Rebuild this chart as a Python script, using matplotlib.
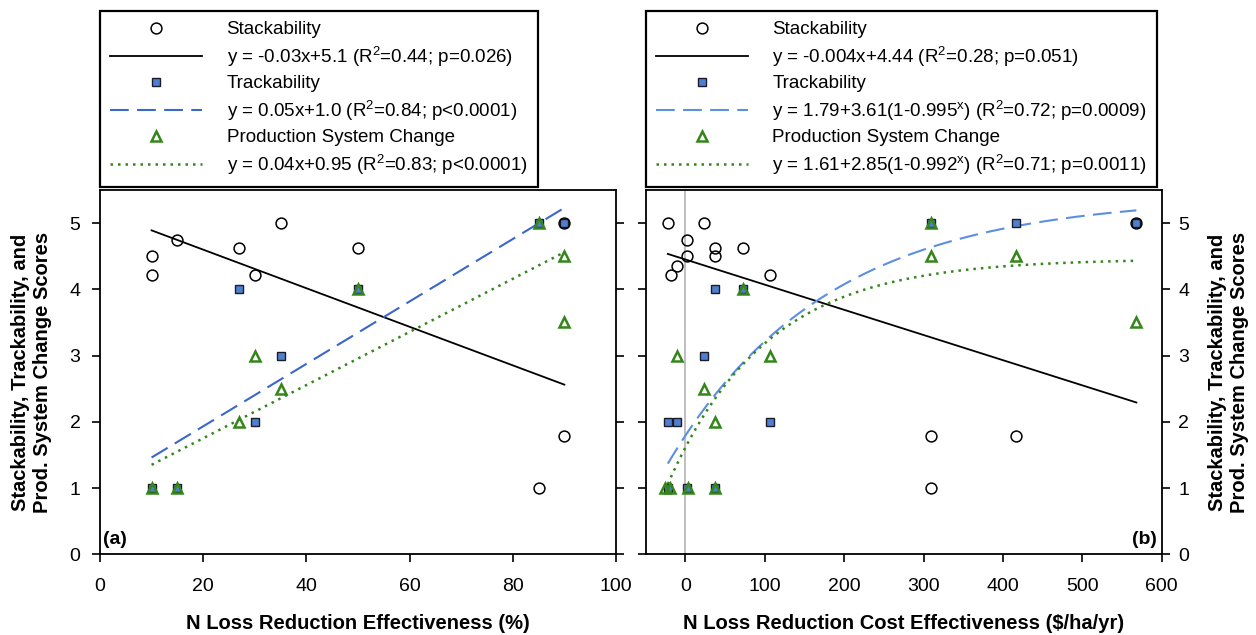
import numpy as np
import matplotlib.pyplot as plt
from matplotlib.lines import Line2D

plt.rcParams['font.family'] = ['Liberation Sans', 'DejaVu Sans']
plt.rcParams['mathtext.fontset'] = 'custom'
plt.rcParams['mathtext.rm'] = 'Liberation Sans'
plt.rcParams['mathtext.it'] = 'Liberation Sans:italic'
plt.rcParams['mathtext.bf'] = 'Liberation Sans:bold'

# ---- panel (a): N loss reduction effectiveness (%) ----
a_stack_x = [10, 10, 15, 27, 30, 35, 50, 85, 90, 90]
a_stack_y = [4.5, 4.22, 4.75, 4.62, 4.22, 5, 4.62, 1, 5, 1.78]
a_track_x = [10, 15, 27, 30, 35, 50, 85, 90]
a_track_y = [1, 1, 4, 2, 3, 4, 5, 5]
a_psc_x = [10, 15, 27, 30, 35, 50, 85, 90, 90]
a_psc_y = [1, 1, 2, 3, 2.5, 4, 5, 4.5, 3.5]
a_fit_range = [10, 90]
a_stack_fit = (-0.0291, 5.18)   # slope, intercept
a_track_fit = (0.0471, 0.99)
a_psc_fit = (0.0401, 0.95)
a_labels = ["y = -0.03x+5.1 (R$^{2}$=0.44; p=0.026)",
            "y = 0.05x+1.0 (R$^{2}$=0.84; p<0.0001)",
            "y = 0.04x+0.95 (R$^{2}$=0.83; p<0.0001)"]

# ---- panel (b): N loss reduction cost effectiveness ($/ha/yr) ----
b_stack_x = [-22, 24, 2, 2, -10, -18, 38, 38, 73, 107, 309, 309, 416, 568]
b_stack_y = [5, 5, 4.75, 4.5, 4.35, 4.22, 4.62, 4.5, 4.62, 4.22, 1.78, 1, 1.78, 5]
b_track_x = [-22, -10, 24, 38, 107, 73, -22, 2, 38, 309, 416, 568]
b_track_y = [2, 2, 3, 4, 2, 4, 1, 1, 1, 5, 5, 5]
b_psc_x = [-26, -19, 3, 38, -10, 24, 38, 73, 107, 309, 309, 416, 568]
b_psc_y = [1, 1, 1, 1, 3, 2.5, 2, 4, 3, 5, 4.5, 4.5, 3.5]
b_fit_range = [-22, 568]
b_stack_fit = (-0.0038, 4.45)
b_track_fit = (1.79, 3.61, 0.995)   # a + b*(1 - c**x)
b_psc_fit = (1.61, 2.85, 0.992)
b_labels = ["y = -0.004x+4.44 (R$^{2}$=0.28; p=0.051)",
            "y = 1.79+3.61(1-0.995$^{\\mathrm{x}}$) (R$^{2}$=0.72; p=0.0009)",
            "y = 1.61+2.85(1-0.992$^{\\mathrm{x}}$) (R$^{2}$=0.71; p=0.0011)"]

BLACK = 'black'
BLUE_A = '#3a67c9'
BLUE_B = '#5b8fe0'
SQ_FACE = '#4f80d0'
GREEN = '#34861a'
FS_TICK = 14
FS_LEG = 13.5
FS_LAB = 14.5
YLABEL = "Stackability, Trackability, and\nProd. System Change Scores"

fig = plt.figure(figsize=(12.56, 6.35), dpi=100)
ax_a = fig.add_axes([0.0796, 0.127, 0.4108, 0.574])
ax_b = fig.add_axes([0.514, 0.127, 0.411, 0.574])


def draw_points(ax, sx, sy, tx, ty, px, py):
    ax.plot(tx, ty, 's', ms=5.5, mfc=SQ_FACE, mec='#1b1b2a', mew=1.0, zorder=3)
    ax.plot(sx, sy, 'o', ms=7.8, mfc='none', mec=BLACK, mew=1.1, zorder=4)
    ax.plot(px, py, '^', ms=7.8, mfc='none', mec=GREEN, mew=1.8, zorder=5)


def legend_box(ax, labels, blue):
    handles = [
        Line2D([], [], ls='none', marker='o', ms=7.8, mfc='none', mec=BLACK, mew=1.1),
        Line2D([], [], color=BLACK, lw=1.3),
        Line2D([], [], ls='none', marker='s', ms=5.5, mfc=SQ_FACE, mec='#1b1b2a', mew=1.0),
        Line2D([], [], color=blue, lw=1.5, dashes=(9, 4)),
        Line2D([], [], ls='none', marker='^', ms=7.8, mfc='none', mec=GREEN, mew=1.8),
        Line2D([], [], color=GREEN, lw=1.8, dashes=(1, 2)),
    ]
    texts = ["Stackability", labels[0], "Trackability", labels[1],
             "Production System Change", labels[2]]
    leg = ax.legend(handles, texts, loc='lower left', bbox_to_anchor=(0, 1.008),
                    borderaxespad=0, fontsize=FS_LEG, frameon=True, fancybox=False,
                    edgecolor=BLACK, framealpha=1, handlelength=4.9,
                    handletextpad=1.3, labelspacing=0.34, borderpad=0.55)
    leg.get_frame().set_linewidth(1.6)


def style_axes(ax):
    for s in ax.spines.values():
        s.set_linewidth(1.3)
    ax.set_ylim(0, 5.5)
    ax.set_yticks([0, 1, 2, 3, 4, 5])
    ax.tick_params(direction='out', length=6, width=1.2, labelsize=FS_TICK,
                   left=True, right=True, pad=8)
    ax.tick_params(axis='x', pad=11)


# panel (a)
xa = np.array(a_fit_range, dtype=float)
ax_a.plot(xa, a_stack_fit[0] * xa + a_stack_fit[1], color=BLACK, lw=1.3, zorder=2)
ax_a.plot(xa, a_track_fit[0] * xa + a_track_fit[1], color=BLUE_A, lw=1.5,
          dashes=(9, 4), zorder=2)
ax_a.plot(xa, a_psc_fit[0] * xa + a_psc_fit[1], color=GREEN, lw=1.8,
          dashes=(1, 2), zorder=2)
draw_points(ax_a, a_stack_x, a_stack_y, a_track_x, a_track_y, a_psc_x, a_psc_y)
style_axes(ax_a)
ax_a.set_xlim(0, 100)
ax_a.set_xticks(range(0, 101, 20))
ax_a.tick_params(labelleft=True, labelright=False)
ax_a.set_xlabel("N Loss Reduction Effectiveness (%)", fontsize=FS_LAB, fontweight='bold')
ax_a.xaxis.set_label_coords(0.5, -0.165)
ax_a.set_ylabel(YLABEL, fontsize=FS_LAB, fontweight='bold')
ax_a.yaxis.set_label_coords(-0.093, 0.5)
ax_a.text(0.006, 0.018, "(a)", transform=ax_a.transAxes, fontsize=FS_TICK,
          fontweight='bold', ha='left', va='bottom')
legend_box(ax_a, a_labels, BLUE_A)

# panel (b)
xb = np.linspace(b_fit_range[0], b_fit_range[1], 300)
ax_b.axvline(0, color='#b4b4b4', lw=1.2, zorder=1)
ax_b.plot(xb, b_stack_fit[0] * xb + b_stack_fit[1], color=BLACK, lw=1.3, zorder=2)
ax_b.plot(xb, b_track_fit[0] + b_track_fit[1] * (1 - b_track_fit[2] ** xb),
          color=BLUE_B, lw=1.5, dashes=(9, 4), zorder=2)
ax_b.plot(xb, b_psc_fit[0] + b_psc_fit[1] * (1 - b_psc_fit[2] ** xb),
          color=GREEN, lw=1.8, dashes=(1, 2), zorder=2)
draw_points(ax_b, b_stack_x, b_stack_y, b_track_x, b_track_y, b_psc_x, b_psc_y)
style_axes(ax_b)
ax_b.set_xlim(-50, 600)
ax_b.set_xticks(range(0, 601, 100))
ax_b.tick_params(labelleft=False, labelright=True)
ax_b.tick_params(axis='y', pad=6)
ax_b.yaxis.set_label_position('right')
ax_b.set_xlabel("N Loss Reduction Cost Effectiveness ($/ha/yr)", fontsize=FS_LAB,
                fontweight='bold')
ax_b.xaxis.set_label_coords(0.5, -0.165)
ax_b.set_ylabel(YLABEL, fontsize=FS_LAB, fontweight='bold')
ax_b.yaxis.set_label_coords(1.09, 0.5)
ax_b.text(0.99, 0.018, "(b)", transform=ax_b.transAxes, fontsize=FS_TICK,
          fontweight='bold', ha='right', va='bottom')
legend_box(ax_b, b_labels, BLUE_B)

fig.savefig("out.png", dpi=100)
